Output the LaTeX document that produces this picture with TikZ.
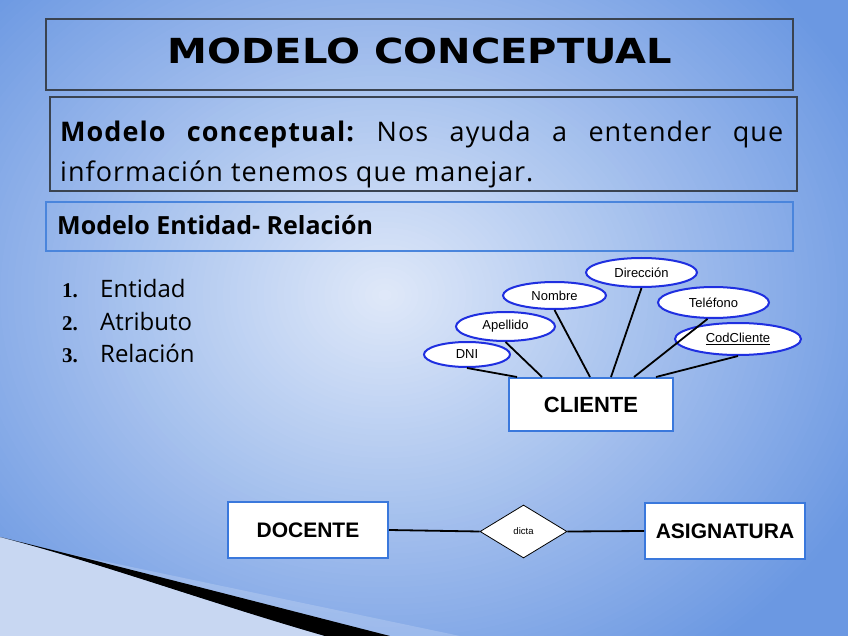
\documentclass[tikz,border=0pt]{standalone}
\usepackage{fontspec}
\setmainfont{Open Sans}
\newfontfamily\bodyfont[LetterSpace=3.8]{Open Sans}
\newfontfamily\titlefont{DejaVu Sans}
\newfontfamily\erfont{Liberation Sans}
\newfontfamily\numfont{Liberation Serif}
\usetikzlibrary{shapes.geometric}
\frenchspacing
\definecolor{bgin}{HTML}{E0E9F9}
\definecolor{bgout}{HTML}{6B98E2}
\definecolor{darkframe}{HTML}{3A4350}
\definecolor{blueframe}{HTML}{4A85DC}
\definecolor{ellblue}{HTML}{1F2FE0}
\definecolor{entblue}{HTML}{3A78DC}
\definecolor{decolight}{HTML}{C8D7F2}
\tikzset{
  frame/.style={draw=darkframe, line width=1.4pt, minimum width=747pt, inner sep=0pt},
  bluefr/.style={draw=blueframe, line width=1.2pt, minimum width=747pt, minimum height=49pt, inner sep=0pt},
  attr/.style={ellipse, draw=ellblue, line width=2pt, fill=white, inner sep=0pt, font=\erfont\fontsize{13}{13}\selectfont},
  entity/.style={draw=entblue, line width=2pt, fill=white, inner sep=0pt, font=\erfont\bfseries\fontsize{21}{21}\selectfont},
  rel/.style={diamond, draw=black, line width=0.8pt, fill=white, inner sep=0pt, minimum width=87pt, minimum height=53pt, shape aspect=1.64, font=\erfont\fontsize{9.5}{9.5}\selectfont},
  link/.style={draw=black, line width=1.8pt},
  txt/.style={inner sep=0pt, anchor=base west},
}
\begin{document}
\begin{tikzpicture}[x=1pt,y=-1pt]
\useasboundingbox (0,0) rectangle (848,636);
\begin{scope}
  \clip (0,0) rectangle (848,636);
  \fill[bgout] (0,0) rectangle (848,636);
  \foreach \i in {80,79,...,1} {
    \pgfmathsetmacro\pc{1.25*\i}
    \pgfmathsetmacro\rx{6.75*\i}
    \pgfmathsetmacro\ry{5.625*\i}
    \fill[bgout!\pc!bgin] (385,295) ellipse [x radius=\rx, y radius=\ry];
  }
  % bottom-left decoration
  \fill[white, opacity=0.18] (60,552) -- (460,636) -- (390,636) -- cycle;
  \fill[decolight] (0,537) .. controls (100,563) and (210,603) .. (325,636) -- (0,636) -- cycle;
  \fill[black] (0,537) .. controls (130,569) and (265,604) .. (390,636) -- (325,636) .. controls (210,603) and (100,563) .. (0,537) -- cycle;
\end{scope}

% title
\node[frame, minimum height=71pt] (titlebox) at (419.5,54.5) {};
\node[inner sep=0pt, font=\titlefont\bfseries\fontsize{34.5}{34.5}\selectfont] (title) at (420,51) {\scalebox{1.16}[1]{MODELO CONCEPTUAL}};

% definition box
\node[frame, minimum height=94pt] (defbox) at (423.5,144) {};
\node[txt, font=\bodyfont\fontsize{27}{27}\selectfont] (def1) at (60,142) {\makebox[723pt][s]{\textbf{Modelo conceptual:} Nos ayuda a entender que}};
\node[txt, font=\bodyfont\fontsize{27}{27}\selectfont] (def2) at (60,182) {información tenemos que manejar.};

% ER heading
\node[bluefr] (erbox) at (419.5,226.5) {};
\node[txt, font=\bfseries\fontsize{25}{25}\selectfont] (erhead) at (57,235) {Modelo Entidad- Relación};

% list
\node[txt, font=\numfont\bfseries\fontsize{21}{21}\selectfont] (n1) at (62,297) {1.};
\node[txt, font=\numfont\bfseries\fontsize{21}{21}\selectfont] (n2) at (62,330) {2.};
\node[txt, font=\numfont\bfseries\fontsize{21}{21}\selectfont] (n3) at (62,362) {3.};
\node[txt, font=\fontsize{24}{24}\selectfont] (i1) at (100,297) {Entidad};
\node[txt, font=\fontsize{24}{24}\selectfont] (i2) at (100,330) {Atributo};
\node[txt, font=\fontsize{24}{24}\selectfont] (i3) at (100,362) {Relación};

% ER diagram: CLIENTE
\node[entity, minimum width=164pt, minimum height=53pt, font=\erfont\bfseries\fontsize{22}{22}\selectfont] (cliente) at (591,404.5) {CLIENTE};
\node[attr, minimum width=86pt, minimum height=25pt] (dni) at (467,354.5) {DNI};
\node[attr, minimum width=99pt, minimum height=29pt] (apellido) at (505.5,326.5) {Apellido};
\node[attr, minimum width=103pt, minimum height=27pt] (nombre) at (554.5,295.5) {Nombre};
\node[attr, minimum width=111pt, minimum height=29pt] (direccion) at (641.5,272.5) {Dirección};
\node[attr, minimum width=111pt, minimum height=31pt] (telefono) at (713.5,302.5) {Teléfono};
\node[attr, minimum width=126pt, minimum height=32pt] (codcliente) at (738,339) {\underline{CodCliente}};

\draw[link] (dni.south) -- ([xshift=9pt]cliente.north west);
\draw[link] (apellido.south) -- ([xshift=34pt]cliente.north west);
\draw[link] (nombre.south) -- ([xshift=82pt]cliente.north west);
\draw[link] (direccion.south) -- ([xshift=103pt]cliente.north west);
\draw[link] (telefono.250) -- ([xshift=126pt]cliente.north west);
\draw[link] (codcliente.south) -- ([xshift=148pt]cliente.north west);

% DOCENTE - dicta - ASIGNATURA
\node[entity, minimum width=160pt, minimum height=56pt] (docente) at (308,530) {DOCENTE};
\node[entity, minimum width=160pt, minimum height=56pt] (asignatura) at (725,531) {ASIGNATURA};
\node[rel] (dicta) at (523.5,531.5) {dicta};
\draw[link] (docente.east) -- (dicta.west);
\draw[link] (dicta.east) -- (asignatura.west);
\end{tikzpicture}
\end{document}
